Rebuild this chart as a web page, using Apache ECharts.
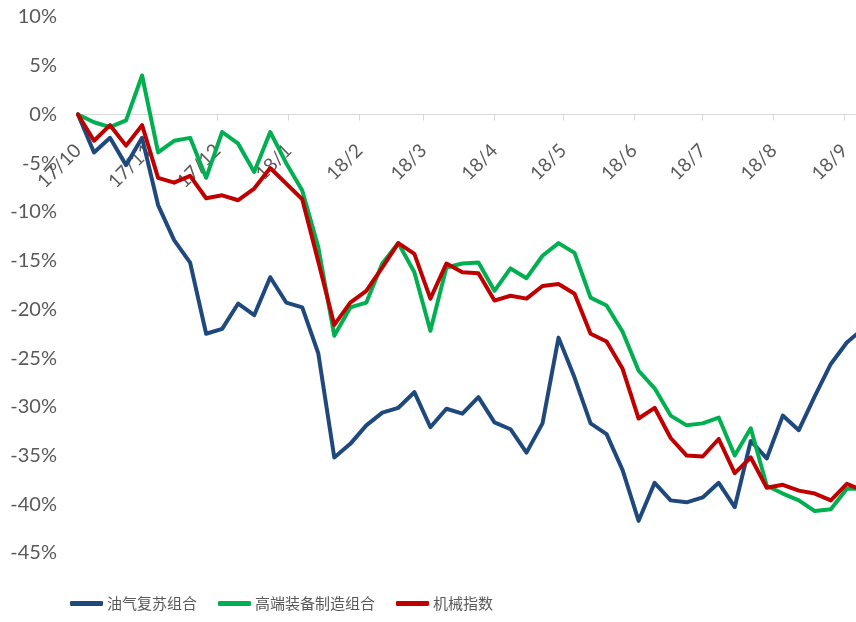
<!DOCTYPE html>
<html>
<head>
<meta charset="utf-8">
<script src="https://cdn.jsdelivr.net/npm/echarts@6/dist/echarts.min.js"></script>
<style>
html,body{margin:0;padding:0;background:#fff;}
#chart{width:856px;height:622px;}
</style>
</head>
<body>
<div id="chart"></div>
<script>
// weekly observation dates
const dates = [
  '2017-10-01','2017-10-08','2017-10-15','2017-10-22','2017-10-29',
  '2017-11-05','2017-11-12','2017-11-19','2017-11-26',
  '2017-12-03','2017-12-10','2017-12-17','2017-12-24','2017-12-31',
  '2018-01-07','2018-01-14','2018-01-21','2018-01-28',
  '2018-02-04','2018-02-11','2018-02-18','2018-02-25',
  '2018-03-04','2018-03-11','2018-03-18','2018-03-25',
  '2018-04-01','2018-04-08','2018-04-15','2018-04-22','2018-04-29',
  '2018-05-06','2018-05-13','2018-05-20','2018-05-27',
  '2018-06-03','2018-06-10','2018-06-17','2018-06-24',
  '2018-07-01','2018-07-08','2018-07-15','2018-07-22','2018-07-29',
  '2018-08-05','2018-08-12','2018-08-19','2018-08-26',
  '2018-09-02','2018-09-06'
];
const seriesNames = ['油气复苏组合', '高端装备制造组合', '机械指数'];
// cumulative returns, %
const oilGas = [
  0, -3.9, -2.4, -5.2, -2.4, -9.3, -12.9, -15.2, -22.5, -22.0,
  -19.4, -20.6, -16.7, -19.3, -19.8, -24.5, -35.2, -33.8, -31.9, -30.6,
  -30.1, -28.5, -32.1, -30.2, -30.7, -29.0, -31.6, -32.3, -34.7, -31.7,
  -22.9, -27.0, -31.7, -32.8, -36.5, -41.7, -37.8, -39.6, -39.8, -39.3,
  -37.8, -40.3, -33.5, -35.3, -30.9, -32.4, -28.9, -25.6, -23.4, -22.6
];
const highEnd = [
  0, -0.8, -1.3, -0.6, 4.0, -3.9, -2.7, -2.4, -6.5, -1.8,
  -3.0, -5.9, -1.8, -5.0, -7.8, -13.6, -22.7, -19.8, -19.3, -15.3,
  -13.2, -16.2, -22.2, -15.7, -15.3, -15.2, -18.1, -15.8, -16.8, -14.5,
  -13.2, -14.2, -18.8, -19.6, -22.3, -26.3, -28.1, -30.9, -31.9, -31.7,
  -31.1, -35.0, -32.2, -38.1, -38.9, -39.6, -40.7, -40.5, -38.4, -38.4
];
const machinery = [
  0, -2.7, -1.1, -3.2, -1.1, -6.5, -7.0, -6.3, -8.6, -8.3,
  -8.8, -7.6, -5.5, -7.1, -8.7, -15.1, -21.6, -19.3, -18.1, -15.7,
  -13.2, -14.3, -18.9, -15.3, -16.2, -16.3, -19.1, -18.6, -18.9, -17.6,
  -17.4, -18.4, -22.5, -23.3, -26.1, -31.2, -30.1, -33.2, -35.0, -35.1,
  -33.3, -36.8, -35.2, -38.3, -38.0, -38.6, -38.9, -39.6, -37.9, -38.3
];
const yTicks = {min: -45, max: 10, step: 5};
const colors = ['#1f497d', '#00b050', '#c00000'];

function toTime(s) {
  const p = s.split('-').map(Number);
  return new Date(p[0], p[1] - 1, p[2]).getTime();
}
function pairs(vals) { return dates.map((d, i) => [toTime(d), vals[i]]); }

const GRID_TOP = 17, GRID_BOTTOM = 69, H = 622;
const plotH = H - GRID_TOP - GRID_BOTTOM;
// distance from the bottom edge of the plot up to the zero line
const zeroOffset = plotH * (0 - yTicks.min) / (yTicks.max - yTicks.min);

const chart = echarts.init(document.getElementById('chart'), null, {renderer: 'canvas'});
const txt = '#595959';
const font = 'Lato, "Noto Sans", sans-serif';
const lineSeries = (name, vals, color) => ({
  name: name, type: 'line', data: pairs(vals), symbol: 'none', smooth: false,
  lineStyle: {color: color, width: 4, join: 'round', cap: 'round'},
  itemStyle: {color: color}, z: 3
});
chart.setOption({
  animation: false,
  backgroundColor: '#ffffff',
  color: colors,
  grid: {left: 78, right: 0, top: GRID_TOP, bottom: GRID_BOTTOM, containLabel: false},
  legend: {
    left: 70, top: 596, padding: 0, itemGap: 21, itemWidth: 33, itemHeight: 5,
    icon: 'roundRect',
    textStyle: {color: txt, fontSize: 15, fontFamily: '"Noto Sans CJK SC", sans-serif', padding: [0, 0, 0, -1]},
    data: seriesNames
  },
  xAxis: {
    type: 'time',
    position: 'bottom',
    offset: -zeroOffset,
    min: toTime('2017-10-01'),
    max: toTime('2018-09-06'),
    splitNumber: 11,
    minInterval: 28 * 86400000,
    maxInterval: 31 * 86400000,
    axisLine: {show: true, onZero: false, lineStyle: {color: '#d9d9d9', width: 1}},
    axisTick: {show: true, length: 6, lineStyle: {color: '#d9d9d9'}},
    splitLine: {show: false},
    minorTick: {show: false},
    axisLabel: {
      rotate: 45, margin: 33, color: txt, fontSize: 19, fontFamily: font,
      showMinLabel: true, showMaxLabel: false, hideOverlap: false,
      formatter: function (v) {
        const d = new Date(v);
        return String(d.getFullYear()).slice(2) + '/' + (d.getMonth() + 1);
      }
    }
  },
  yAxis: {
    type: 'value', min: yTicks.min, max: yTicks.max, interval: yTicks.step,
    axisLine: {show: false}, axisTick: {show: false}, splitLine: {show: false},
    axisLabel: {color: txt, fontSize: 20, fontFamily: font, margin: 21, formatter: '{value}%'}
  },
  series: [
    lineSeries(seriesNames[0], oilGas, colors[0]),
    lineSeries(seriesNames[1], highEnd, colors[1]),
    lineSeries(seriesNames[2], machinery, colors[2])
  ]
});
</script>
</body>
</html>
